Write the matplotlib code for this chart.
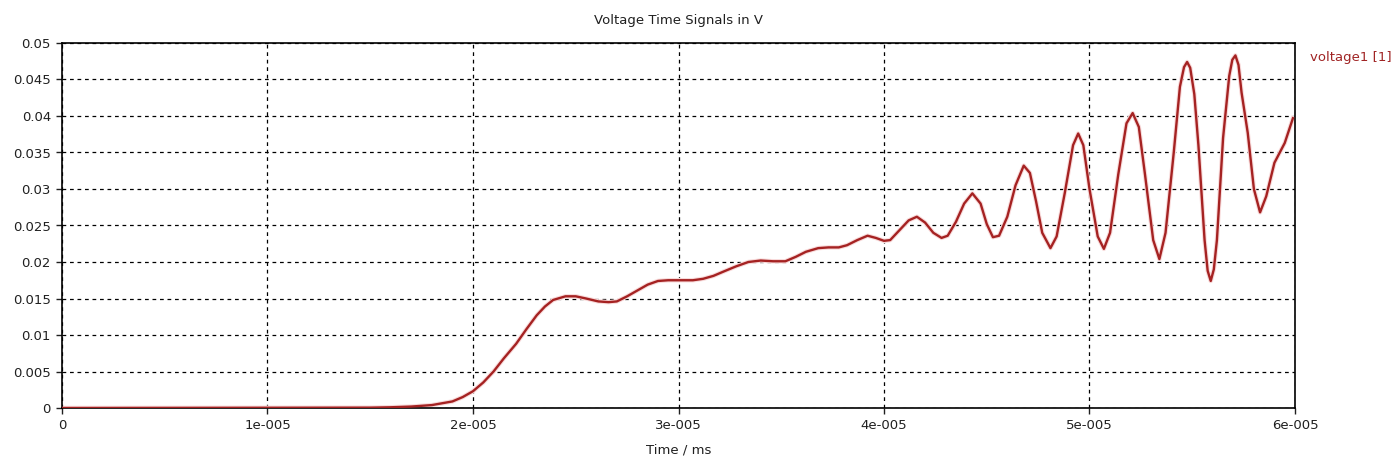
import numpy as np
import matplotlib
matplotlib.use('Agg')
import matplotlib.pyplot as plt

# time in units of 1e-5 ms, voltage in V
t_e5 = [0.0, 1.5, 1.6, 1.7, 1.8, 1.9, 1.95, 2.0, 2.05, 2.10, 2.15, 2.21, 2.26, 2.31,
        2.35, 2.39, 2.45, 2.50, 2.55, 2.61, 2.66, 2.70, 2.75, 2.80, 2.85, 2.90, 2.95,
        3.00, 3.07, 3.12, 3.17, 3.22, 3.28, 3.34, 3.40, 3.46, 3.52, 3.57, 3.62, 3.68,
        3.73, 3.78, 3.82, 3.87, 3.92, 3.96, 4.00, 4.03, 4.07, 4.12, 4.16, 4.20, 4.24,
        4.28, 4.31, 4.35, 4.39, 4.43, 4.47, 4.50, 4.53, 4.56, 4.60, 4.64, 4.68, 4.71,
        4.74, 4.77, 4.81, 4.84, 4.88, 4.92, 4.945, 4.97, 5.00, 5.04, 5.07, 5.10, 5.14,
        5.18, 5.21, 5.24, 5.27, 5.31, 5.34, 5.37, 5.41, 5.44, 5.46, 5.475, 5.49, 5.51,
        5.53, 5.56, 5.575, 5.59, 5.605, 5.62, 5.65, 5.68, 5.695, 5.71, 5.725, 5.74,
        5.77, 5.80, 5.83, 5.86, 5.90, 5.95, 5.99]
voltage = [0.0, 0.00005, 0.0001, 0.0002, 0.0004, 0.0009, 0.0015, 0.0023, 0.0035, 0.0050,
           0.0068, 0.0088, 0.0108, 0.0127, 0.0139, 0.0148, 0.0153, 0.0153, 0.0150, 0.0146,
           0.0145, 0.0146, 0.0153, 0.0161, 0.0169, 0.0174, 0.0175, 0.0175, 0.0175, 0.0177,
           0.0181, 0.0187, 0.0194, 0.0200, 0.0202, 0.0201, 0.0201, 0.0207, 0.0214, 0.0219,
           0.0220, 0.0220, 0.0223, 0.0230, 0.0236, 0.0233, 0.0229, 0.0230, 0.0242, 0.0257,
           0.0262, 0.0254, 0.0240, 0.0233, 0.0236, 0.0255, 0.0280, 0.0294, 0.0280, 0.0252,
           0.0234, 0.0236, 0.0262, 0.0305, 0.0332, 0.0322, 0.0283, 0.0240, 0.0219, 0.0235,
           0.0295, 0.0360, 0.0376, 0.0360, 0.0300, 0.0235, 0.0218, 0.0240, 0.0320, 0.0390,
           0.0404, 0.0385, 0.0320, 0.0230, 0.0204, 0.0240, 0.0350, 0.0440, 0.0467, 0.0474,
           0.0466, 0.0430, 0.0360, 0.0230, 0.0188, 0.0174, 0.0190, 0.0230, 0.0370, 0.0455,
           0.0477, 0.0483, 0.0470, 0.0432, 0.0377, 0.0300, 0.0268, 0.0290, 0.0336, 0.0363,
           0.0397]

x_ticks = [0, 1, 2, 3, 4, 5, 6]
x_labels = ['0', '1e-005', '2e-005', '3e-005', '4e-005', '5e-005', '6e-005']
y_ticks = [0, 0.005, 0.01, 0.015, 0.02, 0.025, 0.03, 0.035, 0.04, 0.045, 0.05]
y_labels = ['0', '0.005', '0.01', '0.015', '0.02', '0.025', '0.03', '0.035', '0.04', '0.045', '0.05']

plt.rcParams['font.family'] = ['DejaVu Sans']
fig = plt.figure(figsize=(14, 4.61), dpi=100)
ax = fig.add_axes([62/1400, 53/461, (1295-62)/1400, (408-43)/461])

t = np.array(t_e5) * 1e-5
ax.plot(t, voltage, color='#f8dada', lw=3.2, solid_joinstyle='round', zorder=2)
ax.plot(t, voltage, color='#a52222', lw=1.7, solid_joinstyle='round', zorder=3)

ax.set_xlim(0, 6e-5)
ax.set_ylim(0, 0.05)
ax.set_xticks(np.array(x_ticks) * 1e-5)
ax.set_xticklabels(x_labels)
ax.set_yticks(y_ticks)
ax.set_yticklabels(y_labels)
ax.tick_params(labelsize=9.5, length=4, width=1, colors='#202020', pad=4)

ax.grid(True, color='black', linestyle=(0, (3, 3)), linewidth=0.9)
for s in ax.spines.values():
    s.set_linewidth(1.2)
    s.set_color('black')

ax.set_title('Voltage Time Signals in V', fontsize=9.5, color='#202020', pad=14)
ax.set_xlabel('Time / ms', fontsize=9.5, color='#202020', labelpad=8)

fig.text(1310/1400, 1 - 58/461, 'voltage1 [1]', fontsize=9.5, color='#a02424', va='center')

fig.savefig('out.png', dpi=100)
